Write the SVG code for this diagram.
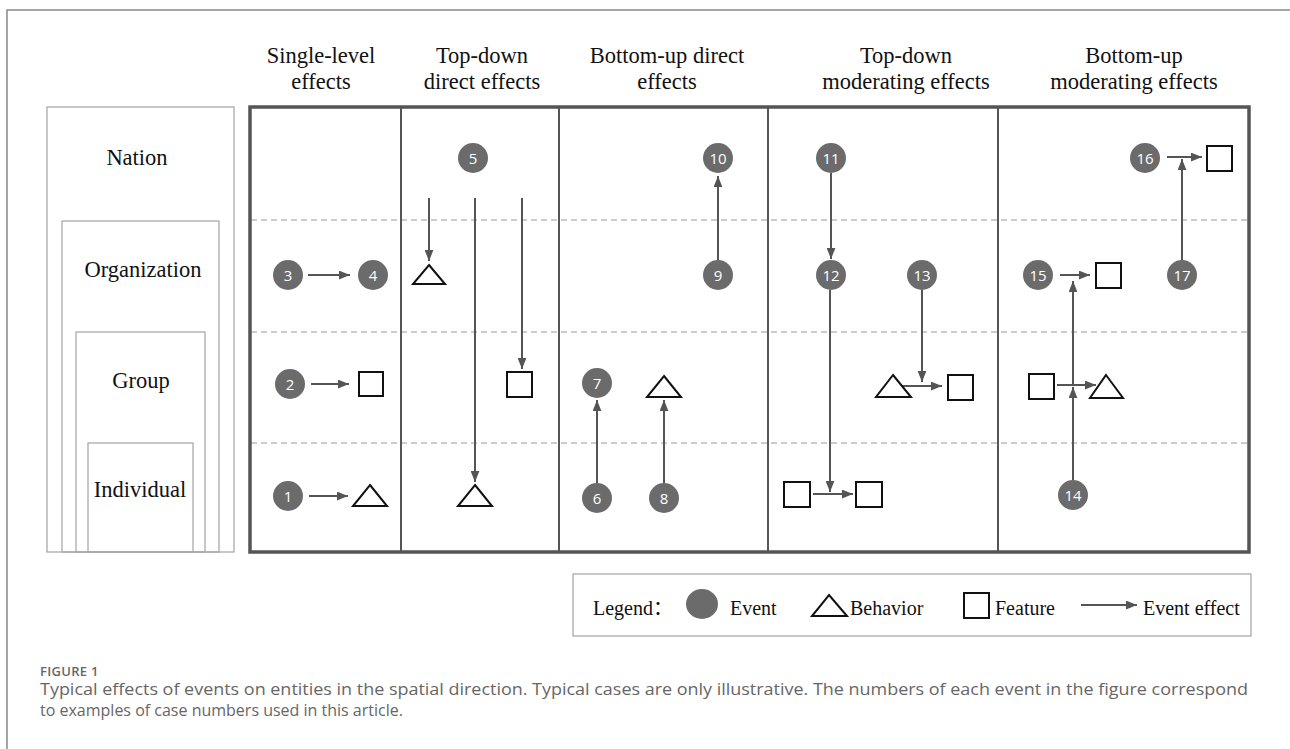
<svg xmlns="http://www.w3.org/2000/svg" width="1290" height="749" viewBox="0 0 1290 749">
  <style>
    .serif { font-family: "Liberation Serif", "Noto Sans CJK SC", serif; font-size: 20px; fill: #111; }
    .hdr { font-family: "Liberation Serif", serif; font-size: 22.5px; fill: #111; text-anchor: middle; }
    .lvl { font-family: "Liberation Serif", serif; font-size: 22.5px; fill: #111; text-anchor: middle; }
    .lvlbox { fill: none; stroke: #aaa; stroke-width: 1.3; }
    .ev circle { fill: #6b6b6b; }
    .ev text { font-family: "Open Sans", "Liberation Sans", sans-serif; font-size: 15px; fill: #fff; text-anchor: middle; }
    .tri { fill: #fff; stroke: #111; stroke-width: 2; stroke-linejoin: miter; }
    .sq { fill: #fff; stroke: #111; stroke-width: 2; }
    .effm { stroke: #555; stroke-width: 2; fill: none; marker-end: url(#ah); }
    .dash { stroke: #999; stroke-width: 1.2; stroke-dasharray: 6 4; }
    .div { stroke: #555; stroke-width: 2; }
    .cap { font-family: "Open Sans", "Liberation Sans", sans-serif; fill: #666; }
  </style>
  <defs>
    <marker id="ah" viewBox="0 0 10 8" refX="10" refY="4" markerWidth="11" markerHeight="9" markerUnits="userSpaceOnUse" orient="auto">
      <path d="M0,0 L10,4 L0,8 Z" fill="#555"/>
    </marker>
  </defs>

  <rect width="1290" height="749" fill="#fff"/>
  <!-- page frame -->
  <path d="M7,749 V10 H1290" fill="none" stroke="#888" stroke-width="1.5"/>

  <!-- nested level boxes -->
  <g id="levels">
    <rect class="lvlbox" x="47" y="107" width="187" height="445"/>
    <rect class="lvlbox" x="62" y="221" width="157" height="331"/>
    <rect class="lvlbox" x="76" y="332" width="129" height="220"/>
    <rect class="lvlbox" x="88" y="443" width="105" height="109"/>
    <text class="lvl" x="137" y="165">Nation</text>
    <text class="lvl" x="143" y="277">Organization</text>
    <text class="lvl" x="141" y="388">Group</text>
    <text class="lvl" x="140" y="497">Individual</text>
  </g>

  <!-- column headers -->
  <g id="headers">
    <text class="hdr" x="321" y="63">Single-level</text>
    <text class="hdr" x="321" y="89">effects</text>
    <text class="hdr" x="482" y="63">Top-down</text>
    <text class="hdr" x="482" y="89">direct effects</text>
    <text class="hdr" x="667" y="63">Bottom-up direct</text>
    <text class="hdr" x="667" y="89">effects</text>
    <text class="hdr" x="906" y="63">Top-down</text>
    <text class="hdr" x="906" y="89">moderating effects</text>
    <text class="hdr" x="1134" y="63">Bottom-up</text>
    <text class="hdr" x="1134" y="89">moderating effects</text>
  </g>

  <!-- grid -->
  <g id="grid">
    <line class="dash" x1="251" y1="220" x2="1248" y2="220"/>
    <line class="dash" x1="251" y1="332" x2="1248" y2="332"/>
    <line class="dash" x1="251" y1="443" x2="1248" y2="443"/>
    <line class="div" x1="401" y1="107" x2="401" y2="552"/>
    <line class="div" x1="559" y1="107" x2="559" y2="552"/>
    <line class="div" x1="768" y1="107" x2="768" y2="552"/>
    <line class="div" x1="998" y1="107" x2="998" y2="552"/>
    <rect x="250" y="107" width="999" height="445" fill="none" stroke="#555" stroke-width="3.5"/>
  </g>

  <!-- connectors -->
  <g id="connectors">
    <!-- single-level -->
    <line class="effm" x1="308" y1="275" x2="350" y2="275"/>
    <line class="effm" x1="311" y1="384" x2="349" y2="384"/>
    <line class="effm" x1="309" y1="496" x2="348" y2="496"/>
    <!-- top-down direct -->
    <line class="effm" x1="429" y1="198" x2="429" y2="261"/>
    <line class="effm" x1="475" y1="198" x2="475" y2="482"/>
    <line class="effm" x1="522" y1="198" x2="522" y2="369"/>
    <!-- bottom-up direct -->
    <line class="effm" x1="718" y1="260" x2="718" y2="176"/>
    <line class="effm" x1="597" y1="483" x2="597" y2="400"/>
    <line class="effm" x1="664" y1="483" x2="664" y2="400"/>
    <!-- top-down moderating -->
    <line class="effm" x1="831" y1="173" x2="831" y2="259"/>
    <line class="effm" x1="830" y1="290" x2="830" y2="492"/>
    <line class="effm" x1="813" y1="494" x2="853" y2="494"/>
    <line class="effm" x1="922" y1="290" x2="922" y2="382"/>
    <line class="effm" x1="902" y1="386" x2="942" y2="386"/>
    <!-- bottom-up moderating -->
    <line class="effm" x1="1167" y1="157" x2="1202" y2="157"/>
    <line class="effm" x1="1182" y1="260" x2="1182" y2="159"/>
    <line class="effm" x1="1060" y1="275" x2="1090" y2="275"/>
    <line class="effm" x1="1073" y1="385" x2="1073" y2="281"/>
    <line class="effm" x1="1057" y1="385" x2="1096" y2="385"/>
    <line class="effm" x1="1073" y1="480" x2="1073" y2="387"/>
  </g>

  <!-- events -->
  <g id="e1" class="ev"><circle cx="288" cy="496" r="15"/><text x="288" y="501.5">1</text></g>
  <g id="e2" class="ev"><circle cx="290" cy="384" r="15"/><text x="290" y="389.5">2</text></g>
  <g id="e3" class="ev"><circle cx="288" cy="275" r="15"/><text x="288" y="280.5">3</text></g>
  <g id="e4" class="ev"><circle cx="373" cy="275" r="15"/><text x="373" y="280.5">4</text></g>
  <g id="e5" class="ev"><circle cx="473" cy="158" r="15"/><text x="473" y="163.5">5</text></g>
  <g id="e6" class="ev"><circle cx="597" cy="498" r="15"/><text x="597" y="503.5">6</text></g>
  <g id="e7" class="ev"><circle cx="597" cy="383" r="15"/><text x="597" y="388.5">7</text></g>
  <g id="e8" class="ev"><circle cx="664" cy="498" r="15"/><text x="664" y="503.5">8</text></g>
  <g id="e9" class="ev"><circle cx="718" cy="275" r="15"/><text x="718" y="280.5">9</text></g>
  <g id="e10" class="ev"><circle cx="718" cy="158" r="15"/><text x="718" y="163.5">10</text></g>
  <g id="e11" class="ev"><circle cx="831" cy="158" r="15"/><text x="831" y="163.5">11</text></g>
  <g id="e12" class="ev"><circle cx="831" cy="275" r="15"/><text x="831" y="280.5">12</text></g>
  <g id="e13" class="ev"><circle cx="922" cy="275" r="15"/><text x="922" y="280.5">13</text></g>
  <g id="e14" class="ev"><circle cx="1073" cy="495" r="15"/><text x="1073" y="500.5">14</text></g>
  <g id="e15" class="ev"><circle cx="1038" cy="275" r="15"/><text x="1038" y="280.5">15</text></g>
  <g id="e16" class="ev"><circle cx="1145" cy="158" r="15"/><text x="1145" y="163.5">16</text></g>
  <g id="e17" class="ev"><circle cx="1182" cy="275" r="15"/><text x="1182" y="280.5">17</text></g>

  <!-- behaviors -->
  <g id="b1"><polygon class="tri" points="370,485 387,506 353,506"/></g>
  <g id="b2"><polygon class="tri" points="429,265 445,284 413,284"/></g>
  <g id="b3"><polygon class="tri" points="475,485 492,506 458,506"/></g>
  <g id="b4"><polygon class="tri" points="664,376 681,397 647,397"/></g>
  <g id="b5"><polygon class="tri" points="893,375 911,397 876,397"/></g>
  <g id="b6"><polygon class="tri" points="1106,375 1123,398 1090,398"/></g>

  <!-- features -->
  <g id="f1"><rect class="sq" x="359" y="372" width="24" height="24"/></g>
  <g id="f2"><rect class="sq" x="507" y="372" width="25" height="25"/></g>
  <g id="f3"><rect class="sq" x="784" y="482" width="26" height="25"/></g>
  <g id="f4"><rect class="sq" x="856" y="482" width="26" height="25"/></g>
  <g id="f5"><rect class="sq" x="948" y="375" width="25" height="25"/></g>
  <g id="f6"><rect class="sq" x="1029" y="374" width="25" height="25"/></g>
  <g id="f7"><rect class="sq" x="1096" y="263" width="25" height="25"/></g>
  <g id="f8"><rect class="sq" x="1207" y="146" width="25" height="25"/></g>

  <!-- legend -->
  <g id="legend">
    <rect x="573" y="574" width="678" height="62" fill="#fff" stroke="#aaa" stroke-width="1.3"/>
    <text class="serif" x="593" y="615">Legend：</text>
    <ellipse cx="702" cy="604" rx="16" ry="15" fill="#6b6b6b"/>
    <text class="serif" x="730" y="615">Event</text>
    <polygon class="tri" points="829,595 847,616 812,616"/>
    <text class="serif" x="850" y="615">Behavior</text>
    <rect class="sq" x="964" y="593" width="25" height="25"/>
    <text class="serif" x="995" y="615">Feature</text>
    <line class="effm" x1="1081" y1="605" x2="1137" y2="605"/>
    <text class="serif" x="1143" y="615">Event effect</text>
  </g>

  <!-- caption -->
  <g id="caption">
    <text class="cap" x="40" y="676" font-size="13" font-weight="600" letter-spacing="0.3">FIGURE 1</text>
    <text class="cap" x="40" y="695" font-size="16" textLength="1208" lengthAdjust="spacingAndGlyphs">Typical effects of events on entities in the spatial direction. Typical cases are only illustrative. The numbers of each event in the figure correspond</text>
    <text class="cap" x="40" y="716" font-size="16">to examples of case numbers used in this article.</text>
  </g>
</svg>
